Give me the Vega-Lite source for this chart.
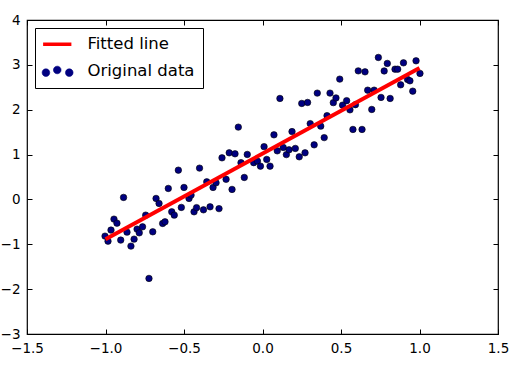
{
  "$schema": "https://vega.github.io/schema/vega-lite/v6.json",
  "width": 471,
  "height": 314,
  "autosize": {"type": "none"},
  "padding": {"left": 27, "top": 20, "right": 17, "bottom": 31},
  "background": "white",
  "config": {
    "view": {"stroke": "#000000", "strokeWidth": 1.2},
    "font": "DejaVu Sans",
    "axis": {"grid": false, "domain": false, "tickColor": "#000000", "tickSize": -5, "tickWidth": 1, "labelColor": "#000000", "labelFontSize": 13.5, "labelFont": "DejaVu Sans", "title": null}
  },
  "encoding": {
    "color": {"field": "series", "type": "nominal",
      "scale": {"domain": ["Fitted line", "Original data"], "range": ["#ff0000", "#000080"]},
      "legend": {
        "title": null, "orient": "top-left", "offset": 8, "padding": 8,
        "strokeColor": "#000000", "fillColor": "#ffffff", "cornerRadius": 0,
        "labelFontSize": 16.5, "labelFont": "DejaVu Sans", "labelColor": "#000000",
        "symbolSize": 100, "rowPadding": 10, "symbolOffset": 6, "labelOffset": 22,
        "encode": {"symbols": {"update": {
          "shape": {"signal": "datum.value === 'Fitted line' ? 'stroke' : 'M-1.07,0.1a0.27,0.27 0 1,0 0.54,0a0.27,0.27 0 1,0 -0.54,0ZM-0.27,-0.09a0.27,0.27 0 1,0 0.54,0a0.27,0.27 0 1,0 -0.54,0ZM0.58,0.1a0.27,0.27 0 1,0 0.54,0a0.27,0.27 0 1,0 -0.54,0Z'"},
          "size": {"value": 800},
          "strokeWidth": {"signal": "datum.value === 'Fitted line' ? 3.5 : 0.6"},
          "stroke": {"signal": "datum.value === 'Fitted line' ? '#ff0000' : '#000000'"},
          "fill": {"signal": "datum.value === 'Fitted line' ? 'transparent' : '#000080'"},
          "opacity": {"value": 1}
        }}}
      }}
  },
  "layer": [
    {
      "data": {"values": [
        {"x": -1.003, "y": -0.818, "series": "Original data"},
        {"x": -0.984, "y": -0.930, "series": "Original data"},
        {"x": -0.965, "y": -0.684, "series": "Original data"},
        {"x": -0.946, "y": -0.439, "series": "Original data"},
        {"x": -0.927, "y": -0.529, "series": "Original data"},
        {"x": -0.903, "y": -0.907, "series": "Original data"},
        {"x": -0.885, "y": 0.045, "series": "Original data"},
        {"x": -0.863, "y": -0.729, "series": "Original data"},
        {"x": -0.838, "y": -1.041, "series": "Original data"},
        {"x": -0.818, "y": -0.885, "series": "Original data"},
        {"x": -0.799, "y": -0.662, "series": "Original data"},
        {"x": -0.785, "y": -0.745, "series": "Original data"},
        {"x": -0.764, "y": -0.611, "series": "Original data"},
        {"x": -0.744, "y": -0.350, "series": "Original data"},
        {"x": -0.723, "y": -1.761, "series": "Original data"},
        {"x": -0.699, "y": -0.722, "series": "Original data"},
        {"x": -0.678, "y": 0.022, "series": "Original data"},
        {"x": -0.659, "y": -0.089, "series": "Original data"},
        {"x": -0.636, "y": -0.535, "series": "Original data"},
        {"x": -0.621, "y": -0.499, "series": "Original data"},
        {"x": -0.600, "y": 0.245, "series": "Original data"},
        {"x": -0.578, "y": -0.276, "series": "Original data"},
        {"x": -0.562, "y": -0.350, "series": "Original data"},
        {"x": -0.536, "y": 0.653, "series": "Original data"},
        {"x": -0.517, "y": -0.178, "series": "Original data"},
        {"x": -0.500, "y": 0.267, "series": "Original data"},
        {"x": -0.468, "y": 0.022, "series": "Original data"},
        {"x": -0.455, "y": 0.096, "series": "Original data"},
        {"x": -0.436, "y": -0.276, "series": "Original data"},
        {"x": -0.420, "y": -0.183, "series": "Original data"},
        {"x": -0.401, "y": 0.698, "series": "Original data"},
        {"x": -0.376, "y": -0.232, "series": "Original data"},
        {"x": -0.355, "y": 0.392, "series": "Original data"},
        {"x": -0.334, "y": -0.165, "series": "Original data"},
        {"x": -0.315, "y": 0.267, "series": "Original data"},
        {"x": -0.296, "y": 0.370, "series": "Original data"},
        {"x": -0.277, "y": -0.205, "series": "Original data"},
        {"x": -0.258, "y": 0.927, "series": "Original data"},
        {"x": -0.232, "y": 0.448, "series": "Original data"},
        {"x": -0.212, "y": 1.039, "series": "Original data"},
        {"x": -0.194, "y": 0.223, "series": "Original data"},
        {"x": -0.175, "y": 1.017, "series": "Original data"},
        {"x": -0.154, "y": 1.612, "series": "Original data"},
        {"x": -0.137, "y": 0.820, "series": "Original data"},
        {"x": -0.116, "y": 0.490, "series": "Original data"},
        {"x": -0.097, "y": 1.003, "series": "Original data"},
        {"x": -0.056, "y": 0.820, "series": "Original data"},
        {"x": -0.032, "y": 0.854, "series": "Original data"},
        {"x": -0.013, "y": 0.742, "series": "Original data"},
        {"x": 0.010, "y": 1.177, "series": "Original data"},
        {"x": 0.027, "y": 0.892, "series": "Original data"},
        {"x": 0.048, "y": 0.742, "series": "Original data"},
        {"x": 0.073, "y": 1.440, "series": "Original data"},
        {"x": 0.094, "y": 1.083, "series": "Original data"},
        {"x": 0.111, "y": 2.251, "series": "Original data"},
        {"x": 0.132, "y": 1.159, "series": "Original data"},
        {"x": 0.152, "y": 0.999, "series": "Original data"},
        {"x": 0.169, "y": 1.106, "series": "Original data"},
        {"x": 0.188, "y": 1.512, "series": "Original data"},
        {"x": 0.209, "y": 1.137, "series": "Original data"},
        {"x": 0.234, "y": 0.950, "series": "Original data"},
        {"x": 0.250, "y": 2.140, "series": "Original data"},
        {"x": 0.271, "y": 1.039, "series": "Original data"},
        {"x": 0.287, "y": 2.162, "series": "Original data"},
        {"x": 0.304, "y": 1.690, "series": "Original data"},
        {"x": 0.329, "y": 1.217, "series": "Original data"},
        {"x": 0.349, "y": 2.370, "series": "Original data"},
        {"x": 0.371, "y": 1.634, "series": "Original data"},
        {"x": 0.393, "y": 1.378, "series": "Original data"},
        {"x": 0.411, "y": 1.868, "series": "Original data"},
        {"x": 0.430, "y": 2.370, "series": "Original data"},
        {"x": 0.451, "y": 2.158, "series": "Original data"},
        {"x": 0.468, "y": 2.263, "series": "Original data"},
        {"x": 0.492, "y": 2.682, "series": "Original data"},
        {"x": 0.510, "y": 2.102, "series": "Original data"},
        {"x": 0.536, "y": 2.202, "series": "Original data"},
        {"x": 0.557, "y": 1.997, "series": "Original data"},
        {"x": 0.576, "y": 1.560, "series": "Original data"},
        {"x": 0.592, "y": 2.113, "series": "Original data"},
        {"x": 0.610, "y": 2.866, "series": "Original data"},
        {"x": 0.634, "y": 1.560, "series": "Original data"},
        {"x": 0.653, "y": 2.844, "series": "Original data"},
        {"x": 0.670, "y": 2.436, "series": "Original data"},
        {"x": 0.696, "y": 2.006, "series": "Original data"},
        {"x": 0.711, "y": 2.436, "series": "Original data"},
        {"x": 0.738, "y": 3.165, "series": "Original data"},
        {"x": 0.755, "y": 2.274, "series": "Original data"},
        {"x": 0.775, "y": 2.864, "series": "Original data"},
        {"x": 0.795, "y": 3.032, "series": "Original data"},
        {"x": 0.813, "y": 2.251, "series": "Original data"},
        {"x": 0.844, "y": 2.904, "series": "Original data"},
        {"x": 0.861, "y": 2.904, "series": "Original data"},
        {"x": 0.880, "y": 2.555, "series": "Original data"},
        {"x": 0.898, "y": 3.045, "series": "Original data"},
        {"x": 0.924, "y": 2.675, "series": "Original data"},
        {"x": 0.939, "y": 2.644, "series": "Original data"},
        {"x": 0.957, "y": 2.414, "series": "Original data"},
        {"x": 0.978, "y": 3.090, "series": "Original data"},
        {"x": 1.003, "y": 2.809, "series": "Original data"}
      ]},
      "mark": {"type": "point", "filled": true, "size": 42, "stroke": "#000000", "strokeWidth": 0.6, "opacity": 1},
      "encoding": {
        "x": {"field": "x", "type": "quantitative", "scale": {"domain": [-1.5, 1.5], "nice": false, "zero": false},
              "axis": {"orient": "bottom", "values": [-1.5, -1, -0.5, 0, 0.5, 1, 1.5], "format": ".1f", "labelFlush": false, "labelPadding": 12, "labelOverlap": false}},
        "y": {"field": "y", "type": "quantitative", "scale": {"domain": [-3, 4], "nice": false, "zero": false},
              "axis": {"orient": "left", "values": [-3, -2, -1, 0, 1, 2, 3, 4], "format": "d", "labelPadding": 12, "labelOverlap": false}}
      }
    },
    {
      "data": {"values": [
        {"x": -1.0, "y": -0.89, "series": "Fitted line"},
        {"x": 1.0, "y": 2.93, "series": "Fitted line"}
      ]},
      "mark": {"type": "line", "strokeWidth": 4},
      "encoding": {
        "x": {"field": "x", "type": "quantitative",
              "axis": {"orient": "top", "values": [-1.5, -1, -0.5, 0, 0.5, 1, 1.5], "labels": false}},
        "y": {"field": "y", "type": "quantitative",
              "axis": {"orient": "right", "values": [-3, -2, -1, 0, 1, 2, 3, 4], "labels": false}}
      }
    }
  ]
}
